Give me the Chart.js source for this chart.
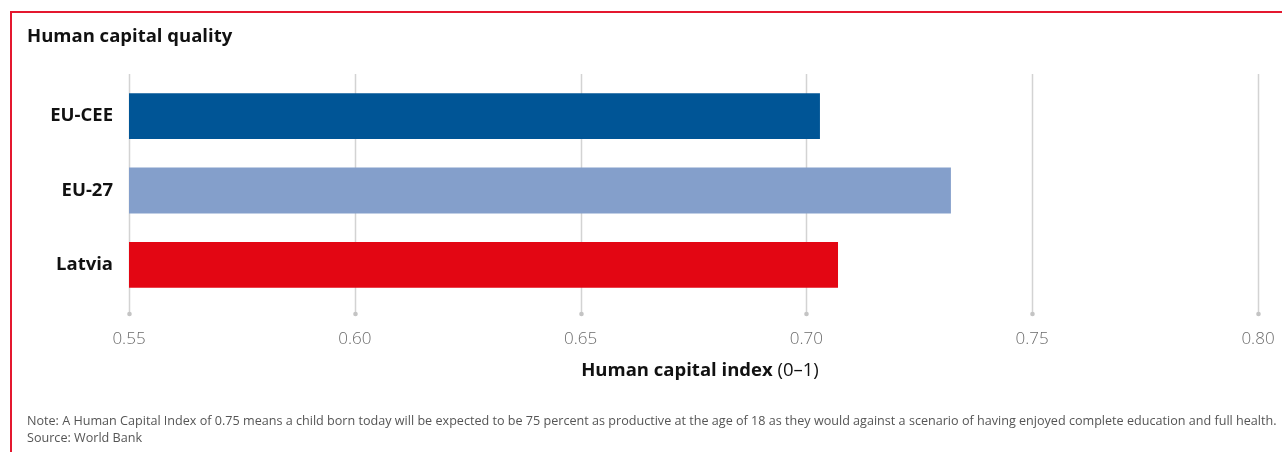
<!DOCTYPE html>
<html>
<head>
<meta charset="utf-8">
<script src="https://cdn.jsdelivr.net/npm/chart.js@4"></script>
<style>
  body { margin: 0; background: #fff; width: 1282px; height: 452px; overflow: hidden; position: relative; font-family: "Open Sans", "Noto Sans", sans-serif; }
  #frame { position: absolute; left: 10px; top: 11px; width: 1300px; height: 500px; border-left: 2px solid #e4182f; border-top: 2px solid #e4182f; }
  #wrap { position: absolute; left: 0; top: 0; width: 1282px; height: 452px; }
  .txt { position: absolute; white-space: nowrap; }
  #title { left: 27px; top: 22px; font-size: 18.5px; font-weight: 700; color: #111; }
  #xtitle { left: 0; width: 1400px; text-align: center; top: 356px; font-size: 18.5px; color: #111; }
  #note { left: 27px; top: 412px; font-size: 12.6px; color: #555; }
  #source { left: 27px; top: 429px; font-size: 12.6px; color: #555; }
</style>
</head>
<body>
<div id="frame"></div>
<div id="wrap"><canvas id="my-chart" width="1282" height="452"></canvas></div>
<div class="txt" id="title">Human capital quality</div>
<div class="txt" id="xtitle"><b>Human capital index</b> (0–1)</div>
<div class="txt" id="note">Note: A Human Capital Index of 0.75 means a child born today will be expected to be 75 percent as productive at the age of 18 as they would against a scenario of having enjoyed complete education and full health.</div>
<div class="txt" id="source">Source: World Bank</div>
<script>
var categories = ['EU-CEE', 'EU-27', 'Latvia'];
var values = [0.703, 0.732, 0.707];
var barColors = ['#005596', '#849fcb', '#e30613'];
var tickValues = [0.55, 0.60, 0.65, 0.70, 0.75, 0.80];

// grid lines with a dot at the bottom, drawn behind the bars
var gridDots = {
  id: 'gridDots',
  beforeDatasetsDraw: function(chart) {
    var ctx = chart.ctx;
    var x = chart.scales.x;
    var area = chart.chartArea;
    ctx.save();
    for (var i = 0; i < tickValues.length; i++) {
      var px = Math.round(x.getPixelForValue(tickValues[i])) + 0.5;
      ctx.strokeStyle = '#d3d3d3';
      ctx.lineWidth = 1.5;
      ctx.beginPath();
      ctx.moveTo(px, area.top - 5);
      ctx.lineTo(px, area.bottom + 12);
      ctx.stroke();
      ctx.fillStyle = '#c4c4c4';
      ctx.beginPath();
      ctx.arc(px, area.bottom + 12, 2.3, 0, Math.PI * 2);
      ctx.fill();
    }
    ctx.restore();
  }
};

var ctx = document.getElementById('my-chart');
var myChart = new Chart(ctx, {
  type: 'bar',
  data: {
    labels: categories,
    datasets: [{
      data: values,
      backgroundColor: barColors,
      borderWidth: 0,
      categoryPercentage: 1,
      barPercentage: 0.617
    }]
  },
  options: {
    indexAxis: 'y',
    responsive: false,
    animation: false,
    layout: { autoPadding: false, padding: { top: 79, right: 24, left: 0, bottom: 0 } },
    plugins: { legend: { display: false }, tooltip: { enabled: false } },
    scales: {
      x: {
        min: 0.55,
        max: 0.80,
        afterBuildTicks: function(scale) {
          scale.ticks = tickValues.map(function(v) { return { value: v }; });
        },
        afterFit: function(scale) { scale.height = 150; scale.paddingRight = 0; scale.paddingLeft = 0; },
        grid: { display: false, drawTicks: false },
        border: { display: false },
        ticks: {
          padding: 27,
          color: '#6b6b6b',
          font: { family: 'Open Sans', size: 17, weight: 300 },
          callback: function(v) { return Number(v).toFixed(2); },
          maxRotation: 0
        }
      },
      y: {
        afterFit: function(scale) { scale.width = 129; },
        grid: { display: false, drawTicks: false },
        border: { display: false },
        ticks: {
          padding: 16,
          color: '#111',
          font: { family: 'Open Sans', size: 18.5, weight: 700 }
        }
      }
    }
  },
  plugins: [gridDots]
});
</script>
</body>
</html>
